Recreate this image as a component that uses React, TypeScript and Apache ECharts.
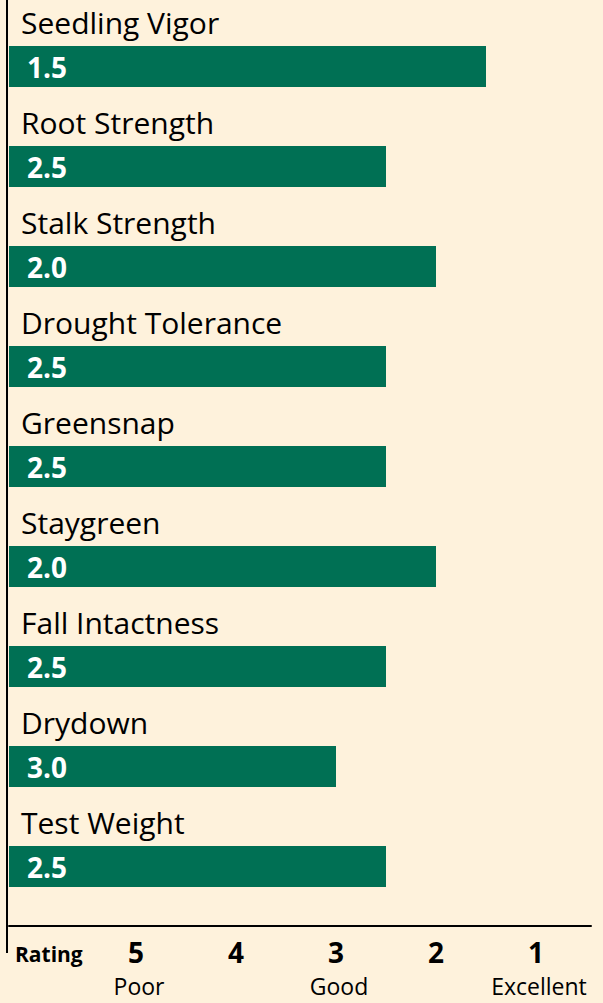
import React, { useEffect, useRef } from "react";
import * as echarts from "echarts";

const categories = [
  "Seedling Vigor",
  "Root Strength",
  "Stalk Strength",
  "Drought Tolerance",
  "Greensnap",
  "Staygreen",
  "Fall Intactness",
  "Drydown",
  "Test Weight",
];
const ratings = [1.5, 2.5, 2.0, 2.5, 2.5, 2.0, 2.5, 3.0, 2.5];
const scaleTicks = [5, 4, 3, 2, 1];
const scaleWords = ["Poor", "", "Good", "", "Excellent"];
const axisMin = 0.45;
const axisMax = 6.27;

const FONT = "'Open Sans', 'Noto Sans', sans-serif";
const BG = "#FEF2DC";
const GREEN = "#007054";

export default function App() {
  const ref = useRef<HTMLDivElement>(null);
  useEffect(() => {
    document.body.style.margin = "0";
    if (!ref.current) return;
    const chart = echarts.init(ref.current, null, { renderer: "svg" });
    chart.setOption({
      animation: false,
      backgroundColor: BG,
      grid: { left: 9, right: 12, top: 16.5, bottom: 86.5, containLabel: false },
      xAxis: {
        type: "value",
        inverse: true,
        min: axisMin,
        max: axisMax,
        offset: 9.5,
        splitLine: { show: false },
        axisTick: { show: false },
        axisLine: { show: true, lineStyle: { color: "#000", width: 2 } },
        axisLabel: {
          customValues: scaleTicks,
          margin: 7,
          formatter: (v: number) => {
            const i = scaleTicks.indexOf(v);
            const w = i >= 0 ? scaleWords[i] : "";
            return `{n|${v}}\n{s|${w || " "}}`;
          },
          rich: {
            n: { fontFamily: FONT, fontSize: 28, fontWeight: "bold", color: "#000", lineHeight: 38 },
            s: { fontFamily: FONT, fontSize: 23, color: "#000", lineHeight: 30, padding: [0, 0, 0, 6] },
          },
        },
      },
      yAxis: {
        type: "category",
        inverse: true,
        data: categories,
        axisLine: { show: false },
        axisTick: { show: false },
        splitLine: { show: false },
        axisLabel: { show: false },
      },
      series: [
        {
          type: "custom",
          data: ratings.map((r, i) => [r, i]),
          encode: { x: 0, y: 1 },
          renderItem: (params: any, api: any) => {
            const r = api.value(0);
            const idx = api.value(1);
            const end = api.coord([r, idx]);
            const band = api.size([0, 1])[1];
            const h = band * 0.41;
            const x0 = params.coordSys.x;
            return {
              type: "group",
              children: [
                {
                  type: "text",
                  x: x0 + 12,
                  y: end[1] - band * 0.445,
                  style: {
                    text: categories[idx],
                    fill: "#000",
                    fontFamily: FONT,
                    fontSize: 30,
                    verticalAlign: "middle",
                    align: "left",
                  },
                },
                {
                  type: "rect",
                  shape: { x: x0, y: end[1] - h / 2, width: end[0] - x0, height: h },
                  style: { fill: GREEN },
                },
                {
                  type: "text",
                  x: x0 + 18,
                  y: end[1],
                  style: {
                    text: Number(r).toFixed(1),
                    fill: "#fff",
                    fontFamily: FONT,
                    fontSize: 28,
                    fontWeight: "bold",
                    verticalAlign: "middle",
                    align: "left",
                  },
                },
              ],
            };
          },
        },
      ],
      graphic: [
        {
          type: "line",
          shape: { x1: 7, y1: 0, x2: 7, y2: 953 },
          style: { stroke: "#000", lineWidth: 2 },
        },
        {
          type: "text",
          left: 15,
          top: 943,
          style: {
            text: "Rating",
            fontFamily: FONT,
            fontSize: 21,
            fontWeight: "bold",
            fill: "#000",
          },
        },
      ],
    });
    return () => chart.dispose();
  }, []);
  return <div ref={ref} style={{ width: 603, height: 1003 }} />;
}
